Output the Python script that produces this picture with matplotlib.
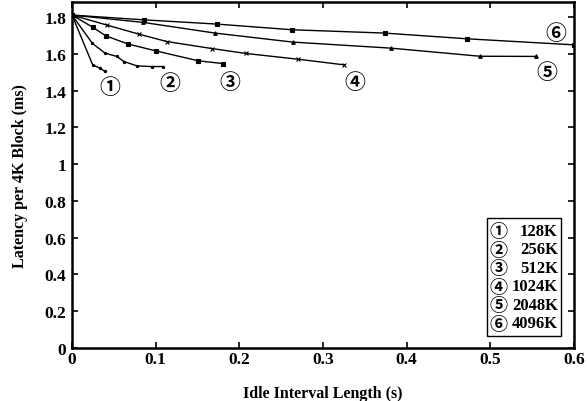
import matplotlib
matplotlib.use("Agg")
import matplotlib.pyplot as plt
from matplotlib.ticker import FuncFormatter
from matplotlib.patches import Rectangle

plt.rcParams['font.family'] = ['Liberation Serif', 'DejaVu Sans']
plt.rcParams['font.weight'] = 'bold'

# values
x128 = [0, 0.0247, 0.0335, 0.0394]
y128 = [1.811, 1.540, 1.522, 1.504]
x256 = [0, 0.0243, 0.0394, 0.0534, 0.0621, 0.078, 0.0952, 0.1084]
y256 = [1.811, 1.657, 1.604, 1.586, 1.558, 1.534, 1.531, 1.531]
x512 = [0, 0.0247, 0.0403, 0.0673, 0.1004, 0.151, 0.1809]
y512 = [1.811, 1.745, 1.698, 1.653, 1.616, 1.562, 1.547]
x1024 = [0, 0.0422, 0.0801, 0.1132, 0.167, 0.208, 0.2698, 0.3255]
y1024 = [1.811, 1.756, 1.707, 1.667, 1.629, 1.602, 1.571, 1.540]
x2048 = [0, 0.0852, 0.1709, 0.2638, 0.3813, 0.4876, 0.5542]
y2048 = [1.811, 1.771, 1.713, 1.664, 1.631, 1.587, 1.586]
x4096 = [0, 0.086, 0.173, 0.2633, 0.3737, 0.4717, 0.6]
y4096 = [1.811, 1.785, 1.762, 1.731, 1.713, 1.682, 1.649]

circ = ['\u2460', '\u2461', '\u2462', '\u2463', '\u2464', '\u2465']
sizes = ['128K', '256K', '512K', '1024K', '2048K', '4096K']

series = [(x128, y128, '.'), (x256, y256, '.'), (x512, y512, 's'),
          (x1024, y1024, 'x'), (x2048, y2048, '^'), (x4096, y4096, 's')]
# where the circled number sits next to each curve (data coords)
tag_pos = [(0.045, 1.42), (0.117, 1.445), (0.189, 1.452),
           (0.338, 1.45), (0.568, 1.505), (0.578, 1.715)]
circ_font = ['Noto Sans CJK JP', 'DejaVu Sans']

fig = plt.figure(figsize=(5.87, 4.02), dpi=100)
ax = fig.add_axes([0.1227, 0.132, 0.855, 0.8605])

for (xs, ys, m), (tx, ty), c in zip(series, tag_pos, circ):
    ms = 3.2 if m == '.' else 2.6
    ax.plot(xs, ys, color='black', lw=1.0, marker=m, ms=ms, mew=0.8)
    ax.text(tx, ty, c, fontsize=15, ha='center', va='center',
            family=circ_font, fontweight='bold')

ax.set_xlim(0, 0.6)
ax.set_ylim(0, 1.882)
ax.set_xticks([0, 0.1, 0.2, 0.3, 0.4, 0.5, 0.6])
ax.set_yticks([0, 0.2, 0.4, 0.6, 0.8, 1.0, 1.2, 1.4, 1.6, 1.8])
fmt = FuncFormatter(lambda v, p: '%g' % round(v, 2))
ax.xaxis.set_major_formatter(fmt)
ax.yaxis.set_major_formatter(fmt)
ax.tick_params(direction='in', top=True, right=True, length=4, width=1.2,
               labelsize=12.5)
ax.tick_params(axis='x', pad=2)
ax.tick_params(axis='y', pad=4)
for lab in ax.get_xticklabels() + ax.get_yticklabels():
    lab.set_fontweight('bold')
for s in ax.spines.values():
    s.set_linewidth(1.8)

ax.set_xlabel('Idle Interval Length (s)', fontsize=11.5, fontweight='bold', labelpad=13)
ax.set_ylabel('Latency per 4K Block (ms)', fontsize=11.5, fontweight='bold', labelpad=12)

# legend box drawn by hand: circled tag left, size right-aligned
bx0, bx1 = 0.826, 0.974
by0, by1 = 0.035, 0.376
ax.add_patch(Rectangle((bx0, by0), bx1 - bx0, by1 - by0, transform=ax.transAxes,
                       fill=False, lw=1.0, ec='black', zorder=5))
for i, (c, s) in enumerate(zip(circ, sizes)):
    yy = by1 - 0.037 - i * 0.0535
    ax.text(bx0 + 0.006, yy, c, transform=ax.transAxes, fontsize=13,
            ha='left', va='center', family=circ_font)
    ax.text(bx1 - 0.006, yy, s, transform=ax.transAxes, fontsize=12,
            ha='right', va='center', fontweight='bold')

fig.savefig('out.png', dpi=100)
